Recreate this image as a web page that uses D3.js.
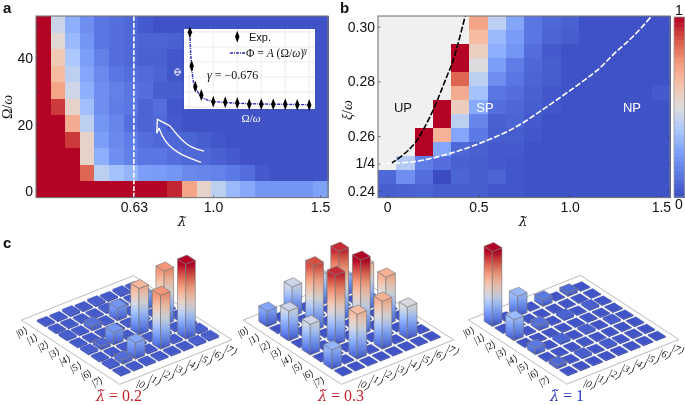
<!DOCTYPE html>
<html><head><meta charset="utf-8">
<script src="https://cdn.jsdelivr.net/npm/d3@7/dist/d3.min.js"></script>
<style>
html,body{margin:0;padding:0;background:#fff;overflow:hidden}
svg{display:block;filter:blur(.3px)}
text{font-family:"Liberation Sans",Arial,sans-serif;fill:#111}
.m{font-family:"Liberation Serif",serif}
</style></head><body><svg id="c" width="685" height="405"></svg>
<script>
// ---------- data ----------
const omegaRatios=[50,45,40,35,30,25,20,15,10,5,0];
const gridA=[
[1,.45,.3,.2,.12,.1,.08,.04,.02,.02,.02,.02,.02,.02,.02,.02,.02,.02,.02,.02],
[1,.52,.33,.22,.12,.1,.08,.07,.07,.06,.03,.02,.02,.02,.02,.02,.02,.02,.02,.02],
[1,.6,.38,.25,.15,.1,.08,.06,.06,.03,.02,.02,.02,.02,.02,.02,.02,.02,.02,.02],
[1,.65,.42,.27,.18,.12,.1,.09,.07,.03,.02,.02,.02,.02,.02,.02,.02,.02,.02,.02],
[1,.72,.46,.3,.2,.15,.12,.1,.05,.05,.03,.02,.02,.02,.02,.02,.02,.02,.02,.02],
[1,.92,.55,.35,.2,.14,.12,.07,.1,.03,.02,.02,.02,.02,.02,.02,.02,.02,.02,.02],
[1,1,.7,.42,.22,.17,.1,.07,.08,.04,.02,.02,.02,.02,.02,.02,.02,.02,.02,.02],
[1,1,.92,.55,.25,.18,.14,.1,.08,.08,.07,.05,.03,.02,.02,.02,.02,.02,.02,.02],
[1,1,1,.55,.3,.2,.15,.12,.12,.1,.08,.08,.06,.04,.02,.02,.02,.02,.02,.02],
[1,1,1,.85,.42,.36,.32,.25,.24,.22,.18,.17,.16,.13,.1,.04,.02,.02,.02,.02],
[1,1,1,1,1,1,1,1,1,.95,.72,.55,.42,.33,.28,.22,.22,.22,.22,.26]];
const lambdaTicksA=[.63,1,1.5], lambdaTickLabelsA=["0.63","1.0","1.5"];
const omegaTicks=[0,10,20,30,40,50];
const criticalLambda=.63;
const N=null;
const gridB=[
[N,N,N,N,N,.72,.42,.27,.12,.08,.06,.02,.02,.02,.02,.02],
[N,N,N,N,N,.65,.33,.24,.12,.07,.05,.02,.02,.02,.02,.02],
[N,N,N,N,1,.57,.3,.22,.1,.04,.02,.02,.02,.02,.02,.02],
[N,N,N,N,1,.5,.25,.14,.08,.05,.02,.02,.02,.02,.02,.02],
[N,N,N,N,.85,.42,.2,.12,.07,.05,.02,.02,.02,.02,.02,.02],
[N,N,N,N,.7,.36,.12,.1,.06,.03,.02,.02,.02,.02,.02,.04],
[N,N,N,1,.58,.28,.1,.08,.05,.03,.02,.02,.02,.02,.02,.02],
[N,N,N,1,.42,.17,.06,.07,.04,.02,.02,.02,.02,.02,.02,.02],
[N,N,1,.68,.27,.13,.05,.05,.03,.02,.02,.02,.02,.02,.02,.02],
[N,N,1,.27,.08,.06,.04,.04,.02,.02,.02,.02,.02,.02,.02,.02],
[N,.4,.14,.1,.06,.05,.04,.03,.02,.02,.02,.02,.02,.02,.02,.02],
[.08,.2,.1,.0,.07,.05,.07,.03,.02,.02,.02,.02,.02,.02,.02,.02],
[.05,.06,.07,.05,.05,.05,.03,.03,.02,.02,.02,.02,.02,.02,.02,.02]];
const xiTicks=[.24,.25,.26,.28,.3], xiTickLabels=["0.24","1/4","0.26","0.28","0.30"];
const lambdaTicksB=[0,.5,1,1.5], lambdaTickLabelsB=["0","0.5","1.0","1.5"];
const upBoundaryL=[.02,.043,.1436,.235,.3266,.3627,.43], upBoundaryXi=[.25,.2509,.2567,.2671,.2817,.2878,.3045];
const npBoundaryL=[-.05,.1436,.3266,.509,.6915,.8745,1.057,1.154,1.25,1.355,1.47];
const npBoundaryXi=[.25,.2506,.2533,.2574,.2628,.2707,.2793,.2842,.2905,.2969,.3055];
const arrowUpperL=[.958,.877,.799], arrowUpperO=[11.8,13.1,19.4];
const arrowLowerL=[.944,.83,.768,.748], arrowLowerO=[8.4,11.1,15.2,18.8];
const arrowHeadL=[.799,.74,.737,.748], arrowHeadO=[19.4,21.4,17.2,18.8];
const insetX=[.25,1,2.5,5,10,15,20,25,30,35,40,45,50];
const insetPhi=[.996,.547,.271,.16,.071,.063,.053,.036,.036,.036,.036,.031,.027];
const fitX=[.25,.5,1,1.5,2.5,3.5,5,7,10,15,20,30,40,50];
const fitPhi=[1,.78,.55,.38,.26,.2,.14,.1,.075,.06,.05,.04,.035,.03];
const kets=[0,1,2,3,4,5,6,7];
const f=.02,e=.012;
const rho02=[
[f,f,.03,f,.03,f,.03,f],[f,f,f,f,.03,f,f,f],[.03,f,.07,f,.17,f,.22,f],[f,f,f,f,f,f,f,f],
[.03,.05,.17,f,.62,f,.72,f],[f,f,f,f,f,f,f,f],[.03,.06,.22,f,.72,f,1,.03],[f,f,f,f,f,f,.03,.03]];
const rho03=[
[.21,e,.40,e,.41,e,.26,e],[e,e,e,e,e,e,e,e],[.40,e,.87,e,.93,e,.60,e],[e,e,e,e,e,e,e,e],
[.41,e,.93,e,1,e,.64,e],[e,e,e,e,e,e,e,e],[.26,e,.60,e,.64,e,.43,e],[e,e,e,e,e,e,e,e]];
const rho1=[
[1,e,.27,e,.09,e,.05,e],[e,e,e,e,e,e,e,e],[.28,e,.07,e,.04,e,.03,e],[e,e,e,e,e,.015,e,e],
[.09,e,.04,e,.03,e,.025,e],[e,e,e,.015,e,e,e,e],[.05,e,.03,e,.025,e,.015,e],[e,e,e,e,e,e,e,e]];
const panelValues=["= 0.2","= 0.3","= 1"];

// ---------- shared ----------
const svg=d3.select("#c");
const defs=svg.append("defs");
const cw=d3.scaleLinear().domain([0,.125,.25,.375,.5,.625,.75,.875,1])
 .range(["#3b4cc0","#5a78e4","#7b9ff9","#aac7fd","#dddcdc","#f5c4ac","#f49a7b","#d95847","#b40426"]);
const FRAME="#777";
function label(s,x,y,size,opt={}){
  const t=svg.append("text").attr("x",x).attr("y",y).attr("font-size",size).text(s)
   .attr("text-anchor",opt.anchor||"middle");
  if(opt.weight)t.attr("font-weight",opt.weight);
  if(opt.cls)t.attr("class",opt.cls);
  if(opt.fill)t.style("fill",opt.fill);
  if(opt.italic)t.attr("font-style","italic");
  if(opt.rot!=null)t.attr("transform",`rotate(${opt.rot} ${x} ${y})`);
  return t;
}
function lamLabel(x,y,size,rest,fill){
  const t=label("",x,y,size,{cls:"m",fill});
  t.append("tspan").attr("font-style","italic").style("font-family",'"DejaVu Serif",serif').attr("font-size",size*.9).text("\u03BB\u0303");
  if(rest)t.append("tspan").text(" "+rest);
  return t;
}
function ratioLabel(sym,x,y,size,opt={}){
  const t=label("",x,y,size,{cls:"m",...opt});
  t.append("tspan").attr("font-style",opt.symItalic?"italic":"normal").text(sym);
  t.append("tspan").text("/");
  t.append("tspan").attr("font-style","italic").text("\u03C9");
}
function heat(x0,x1,y0,y1,grid,clip){
  const cx=d3.scaleBand().domain(d3.range(grid[0].length)).range([x0,x1]);
  const cy=d3.scaleBand().domain(d3.range(grid.length)).range([y0,y1]);
  const g=svg.append("g").attr("shape-rendering","crispEdges");
  grid.forEach((row,r)=>row.forEach((v,c)=>{
    g.append("rect").attr("x",cx(c)).attr("y",cy(r)).attr("width",cx.bandwidth()+.5).attr("height",cy.bandwidth()+.5)
     .attr("fill",v===null?"#f0f0f0":cw(v));
  }));
  defs.append("clipPath").attr("id",clip).append("rect").attr("x",x0).attr("y",y0).attr("width",x1-x0).attr("height",y1-y0);
}
function frame(x0,x1,y0,y1){
  svg.append("rect").attr("x",x0).attr("y",y0).attr("width",x1-x0).attr("height",y1-y0)
   .attr("fill","none").attr("stroke",FRAME).attr("stroke-width",1.1);
}
function axis(gen,tx,ty,size){
  const g=svg.append("g").attr("transform",`translate(${tx},${ty})`).call(gen);
  g.select(".domain").remove();
  g.selectAll(".tick line").attr("stroke","#333").attr("stroke-width",.7);
  g.selectAll(".tick text").attr("font-size",size).style("font-family",'"Liberation Sans",sans-serif').style("fill","#111");
  return g;
}

// ---------- panel a ----------
const ax0=36,ax1=328,ay0=16,ay1=197.6;
const xA=d3.scaleLinear().domain([.173,1.537]).range([ax0,ax1]);
const yA=d3.scaleLinear().domain([-2.3,52.7]).range([ay1,ay0]);
heat(ax0,ax1,ay0,ay1,gridA,"clipA");
svg.append("line").attr("x1",xA(criticalLambda)).attr("x2",xA(criticalLambda)).attr("y1",ay0).attr("y2",ay1)
 .attr("stroke","#fff").attr("stroke-width",1.6).attr("stroke-dasharray","5 1.8");
const lnA=d3.line().x(d=>xA(d[0])).y(d=>yA(d[1]));
[[arrowUpperL,arrowUpperO,d3.curveBasis],[arrowLowerL,arrowLowerO,d3.curveBasis]].forEach(([l,o,c])=>{
  svg.append("path").attr("d",lnA.curve(c)(l.map((v,i)=>[v,o[i]]))).attr("fill","none").attr("stroke","#fff").attr("stroke-width",1.3);
});
svg.append("path").attr("d",lnA.curve(d3.curveLinear)(arrowHeadL.map((v,i)=>[v,arrowHeadO[i]]))).attr("fill","none").attr("stroke","#fff").attr("stroke-width",1.3).attr("stroke-linejoin","miter");
axis(d3.axisBottom(xA).tickValues(lambdaTicksA).tickFormat((d,i)=>lambdaTickLabelsA[i]).tickSizeInner(-2).tickPadding(4),0,ay1,14);
axis(d3.axisLeft(yA).tickValues(omegaTicks).tickFormat(d=>d%20===0&&d<50?d:"").tickSizeInner(-2.5).tickPadding(3),ax0,0,14)
  .selectAll(".tick text").attr("dy",".36em");
frame(ax0,ax1,ay0,ay1);
ratioLabel("\u03A9",12,107,14,{rot:-90});
lamLabel(182,226,15);

// inset
const ix0=184,ix1=315,iy0=29,iy1=109;
svg.append("rect").attr("x",ix0).attr("y",iy0).attr("width",ix1-ix0).attr("height",iy1-iy0).attr("fill","#fff");
const xI=d3.scaleLinear().domain([-2.2,52.4]).range([ix0,ix1]);
const yI=d3.scaleLinear().domain([-.027,1.04]).range([iy1,iy0]);
const gI=svg.append("g");
d3.range(0,51,10).forEach(v=>gI.append("line").attr("x1",xI(v)).attr("x2",xI(v)).attr("y1",iy0).attr("y2",iy1).attr("stroke","#e2e2e2").attr("stroke-width",.7));
d3.range(0,1.01,.2).forEach(v=>gI.append("line").attr("y1",yI(v)).attr("y2",yI(v)).attr("x1",ix0).attr("x2",ix1).attr("stroke","#e2e2e2").attr("stroke-width",.7));
gI.append("path").attr("d",d3.line().curve(d3.curveMonotoneX).x((d,i)=>xI(fitX[i])).y(d=>yI(d))(fitPhi))
 .attr("fill","none").attr("stroke","#2a2ab8").attr("stroke-width",1.4).attr("stroke-dasharray","3 1 1 1");
const dia=d3.symbol().type(d3.symbolDiamond).size(26)();
insetX.forEach((v,i)=>gI.append("path").attr("d",dia).attr("fill","#000").attr("transform",`translate(${xI(v)},${yI(insetPhi[i])}) scale(.8,1.25)`));
gI.append("path").attr("d",dia).attr("fill","#000").attr("transform",`translate(${xI(20)},36.7) scale(.8,1.25)`);
label("Exp.",249,41,11,{anchor:"start"});
gI.append("line").attr("x1",xI(17)).attr("x2",xI(23.5)).attr("y1",53).attr("y2",53).attr("stroke","#2a2ab8").attr("stroke-width",1.4).attr("stroke-dasharray","3 1 1 1");
const leg=label("",246,57,11.5,{anchor:"start",cls:"m"});
leg.append("tspan").text("\u03A6 = ");
leg.append("tspan").attr("font-style","italic").text("A");
leg.append("tspan").text(" (\u03A9/");
leg.append("tspan").attr("font-style","italic").text("\u03C9");
leg.append("tspan").text(")");
leg.append("tspan").attr("font-style","italic").attr("font-size",8).attr("dy",-4).text("\u03B3");
const gam=label("",207,79,12,{anchor:"start",cls:"m"});
gam.append("tspan").attr("font-style","italic").text("\u03B3");
gam.append("tspan").text(" = \u22120.676");
label("\u03A6",181,72,11,{cls:"m",fill:"#fff",rot:-90});
ratioLabel("\u03A9",251,122,11,{fill:"#fff"});

// ---------- panel b ----------
const bx0=378,bx1=670,by0=16,by1=197.6;
const xB=d3.scaleLinear().domain([-.05,1.55]).range([bx0,bx1]);
const yB=d3.scaleLinear().domain([.2375,.3039]).range([by1,by0]);
heat(bx0,bx1,by0,by1,gridB,"clipB");
const lnB=d3.line().curve(d3.curveCatmullRom).x(d=>xB(d[0])).y(d=>yB(d[1]));
const cg=svg.append("g").attr("clip-path","url(#clipB)");
cg.append("path").attr("d",lnB(upBoundaryL.map((v,i)=>[v,upBoundaryXi[i]]))).attr("fill","none").attr("stroke","#000").attr("stroke-width",1.6).attr("stroke-dasharray","6 2");
cg.append("path").attr("d",lnB(npBoundaryL.map((v,i)=>[v,npBoundaryXi[i]]))).attr("fill","none").attr("stroke","#fff").attr("stroke-width",1.6).attr("stroke-dasharray","6 2");
axis(d3.axisBottom(xB).tickValues(lambdaTicksB).tickFormat((d,i)=>lambdaTickLabelsB[i]).tickSizeInner(-2.5).tickPadding(4),0,by1,14);
axis(d3.axisLeft(yB).tickValues(xiTicks).tickFormat((d,i)=>xiTickLabels[i]).tickSizeInner(-2.5).tickPadding(3),bx0,0,14);
axis(d3.axisRight(yB).tickValues(xiTicks).tickFormat("").tickSizeInner(-2),bx1,0,14);
frame(bx0,bx1,by0,by1);
ratioLabel("\u03BE",352,110,14,{rot:-90,symItalic:true});
lamLabel(523,226,15);
label("UP",403,112,13);
label("SP",485,112,13,{fill:"#fff"});
label("NP",632,112,13,{fill:"#fff"});
// colour bar
const levels=d3.range(40);
const yC=d3.scaleBand().domain(levels).range([197,17]);
const cbg=svg.append("g").attr("shape-rendering","crispEdges");
levels.forEach(l=>cbg.append("rect").attr("x",674).attr("width",11).attr("y",yC(l)).attr("height",yC.bandwidth()+.5).attr("fill",cw((l+.5)/40)));
svg.append("rect").attr("x",674).attr("y",17).attr("width",10.5).attr("height",180).attr("fill","none").attr("stroke","#999").attr("stroke-width",.8);
label("1",679,15,14);
label("0",679,209,14);

// ---------- panel c ----------
const uX=10.8,uY=7.06,vX=12.6,vY=-5.0;
const hpx=d3.scaleLinear().domain([0,1]).range([0,75]);
const barTone=d3.scalePow().exponent(.85).domain([0,1]).range([0,1]);
const half=.38;
let gid=0;
function bars(ox,oy,rho,title,tx,col){
  const P=(i,j,h=0)=>[ox+i*uX+j*vX, oy+i*uY+j*vY-h];
  const g=svg.append("g");
  const poly=pts=>pts.map(p=>p.join(",")).join(" ");
  g.append("polygon").attr("points",poly([P(-1.05,-1.05),P(8.05,-1.05),P(8.05,7.85),P(-1.05,7.85)]))
   .attr("fill","#fff").attr("stroke","#aaa").attr("stroke-width",.8);
  kets.forEach(i=>{
    [...kets].reverse().forEach(j=>{
      const v=rho[i][j],h=hpx(v),s=half;
      const A=P(i-s,j-s),B=P(i+s,j-s),C=P(i+s,j+s);
      const Ah=P(i-s,j-s,h),Bh=P(i+s,j-s,h),Ch=P(i+s,j+s,h),Dh=P(i-s,j+s,h);
      const tall=v>.04;
      const id="g"+(gid++);
      const gr=defs.append("linearGradient").attr("id",id).attr("gradientUnits","userSpaceOnUse")
        .attr("x1",0).attr("x2",0).attr("y1",B[1]).attr("y2",B[1]-h);
      d3.range(0,1.001,.1).forEach(t=>gr.append("stop").attr("offset",t).attr("stop-color",cw(barTone(v*t))));
      const edge=tall?"#777":"#3a4a9a";
      const sw=tall?.6:.3;
      g.append("polygon").attr("points",poly([A,B,Bh,Ah])).attr("fill",`url(#${id})`).attr("stroke",edge).attr("stroke-width",sw);
      g.append("polygon").attr("points",poly([B,C,Ch,Bh])).attr("fill",`url(#${id})`).attr("stroke",edge).attr("stroke-width",sw);
      g.append("polygon").attr("points",poly([B,C,Ch,Bh])).attr("fill","#000").attr("opacity",.06);
      g.append("polygon").attr("points",poly([Ah,Bh,Ch,Dh])).attr("fill",cw(barTone(v))).attr("stroke",edge).attr("stroke-width",sw);
    });
  });
  kets.forEach(k=>{
    const a=P(k,0),b=P(7,k);
    label(`|${k}\u27E9`,a[0]-22.7,a[1]+12.5,10,{cls:"m",rot:-25});
    label(`|${k}\u27E9`,b[0]+19.5,b[1]+16,10,{cls:"m",italic:true,rot:25});
  });
  lamLabel(tx,401,16,title,col);
}
bars(46,322.3,rho02,panelValues[0],119,"#c8232c");
bars(267.7,322.3,rho03,panelValues[1],341,"#c8232c");
bars(493,322,rho1,panelValues[2],567,"#2a3cc8");

label("a",3,13,15,{anchor:"start",weight:"bold"});
label("b",340,13,15,{anchor:"start",weight:"bold"});
label("c",3,248,15,{anchor:"start",weight:"bold"});
</script></body></html>
